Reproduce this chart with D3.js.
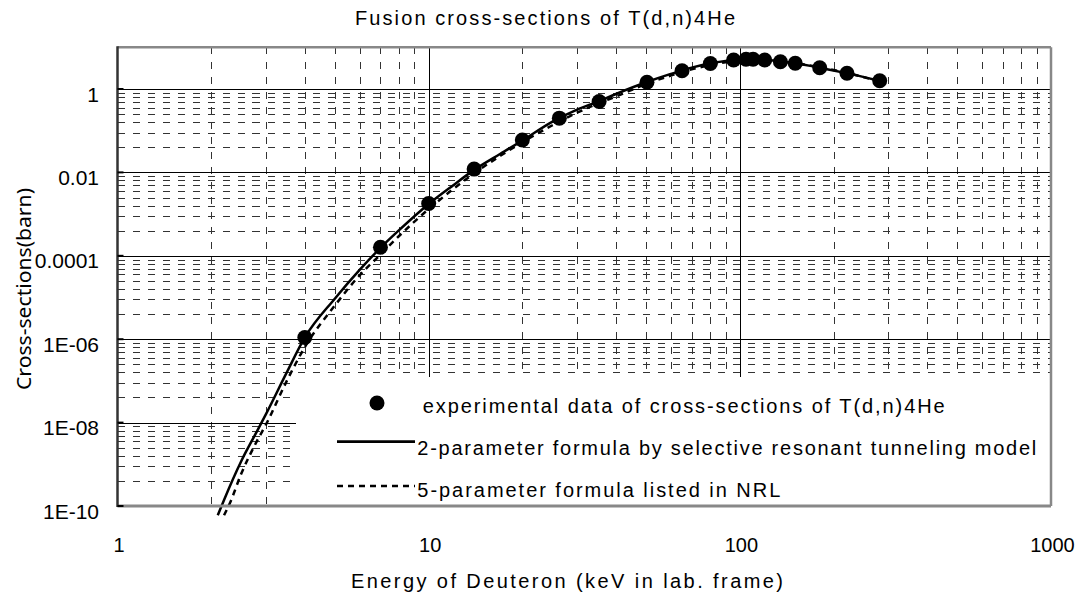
<!DOCTYPE html>
<html><head><meta charset="utf-8">
<script src="https://cdn.jsdelivr.net/npm/d3@7"></script>
<style>
body{margin:0;background:#fff}
svg{display:block}
text{font-family:"Liberation Sans",Arial,sans-serif;fill:#000}
</style>
</head><body><svg id="c" width="1080" height="593"></svg>
<script>
// ---- data ----
const titleText = "Fusion cross-sections of T(d,n)4He";
const xTitle = "Energy of Deuteron (keV in lab. frame)";
const yTitle = "Cross-sections(barn)";
const xTickValues = [1, 10, 100, 1000];
const xTickLabels = ["1", "10", "100", "1000"];
const yTickValues = [1e-10, 1e-8, 1e-6, 1e-4, 1e-2, 1];
const yTickLabels = ["1E-10", "1E-08", "1E-06", "0.0001", "0.01", "1"];
const minorMultipliers = [4, 9, 16, 25, 36, 49, 64, 81];
const legendLabels = [
  "experimental data of cross-sections of T(d,n)4He",
  "2-parameter formula by selective resonant tunneling model",
  "5-parameter formula listed in NRL"
];
// experimental points
const expEnergy = [4, 7, 10, 14, 20, 26.3, 35.3, 50.3, 65.2, 80.4, 95.5, 104.7, 110.3, 120.2, 135, 150.7, 180.6, 221, 281.5];
const expSigma  = [1.1e-6, 1.6e-4, 1.8e-3, 0.012, 0.06, 0.2, 0.5, 1.45, 2.75, 4.1, 4.97, 5.15, 5.15, 4.97, 4.52, 4.14, 3.24, 2.38, 1.58];
// 2-parameter curve (solid)
const srtEnergy = [2.1, 2.2, 2.5, 2.8, 3.0, 3.5, 4, 5, 6, 7, 8, 10, 12, 14, 17, 20, 25, 30, 35, 40, 50, 60, 70, 80, 90, 100, 110, 120, 135, 150, 180, 220, 280];
const srtSigma  = [6e-11, 1.4e-10, 1.2e-9, 6e-9, 1.6e-8, 1.6e-7, 1.1e-6, 9.5e-6, 4.6e-5, 1.55e-4, 4.0e-4, 1.75e-3, 4.95e-3, 0.0115, 0.028, 0.058, 0.165, 0.32, 0.5, 0.76, 1.45, 2.3, 3.25, 4.1, 4.7, 5.05, 5.15, 5.0, 4.55, 4.12, 3.25, 2.4, 1.58];
// 5-parameter NRL curve (dashed)
const nrlEnergy = [2.2, 2.3, 2.5, 2.8, 3.0, 3.5, 4, 5, 6, 7, 8, 10, 12, 14, 17, 20, 25, 30, 35, 40, 50, 60, 70, 80, 90, 100, 110, 120, 135, 150, 180, 220, 280];
const nrlSigma  = [6e-11, 1.2e-10, 6e-10, 3.5e-9, 9e-9, 1e-7, 6.5e-7, 6.5e-6, 3.4e-5, 1.07e-4, 2.9e-4, 1.32e-3, 4.0e-3, 9.5e-3, 0.025, 0.053, 0.135, 0.27, 0.45, 0.66, 1.32, 2.1, 2.95, 3.74, 4.4, 4.76, 4.93, 4.9, 4.6, 4.19, 3.35, 2.45, 1.53];

// ---- layout ----
const L = 117.5, R = 1051, T = 47.3, B = 506;
const svg = d3.select("#c");
const x = d3.scaleLog().domain([1, 1000]).range([L, R]);
const y = d3.scaleLog().domain([1e-10, 10]).range([B, T]);
const px = v => Math.round(v) + 0.5;

const grid = svg.append("g").attr("shape-rendering", "crispEdges");
// vertical minor dashed lines
const vMinor = [];
[1, 10, 100].forEach(d => d3.range(2, 10).forEach(k => vMinor.push(d * k)));
grid.selectAll("line.vmin").data(vMinor).join("line")
  .attr("x1", d => px(x(d))).attr("x2", d => px(x(d)))
  .attr("y1", T).attr("y2", B)
  .attr("stroke", "#333").attr("stroke-width", 1).attr("stroke-dasharray", "7,8");
// horizontal minor dashed lines
const hMinor = [];
yTickValues.slice(0, -1).forEach(b => minorMultipliers.forEach(m => hMinor.push(b * m)));
grid.selectAll("line.hmin").data(hMinor).join("line")
  .attr("x1", L).attr("x2", R)
  .attr("y1", d => px(y(d))).attr("y2", d => px(y(d)))
  .attr("stroke", "#333").attr("stroke-width", 1).attr("stroke-dasharray", "7,8");
// major gridlines
grid.selectAll("line.hmaj").data(yTickValues.slice(1)).join("line")
  .attr("x1", L).attr("x2", R)
  .attr("y1", d => px(y(d))).attr("y2", d => px(y(d)))
  .attr("stroke", "#000").attr("stroke-width", 1);
grid.selectAll("line.vmaj").data([10, 100]).join("line")
  .attr("x1", d => px(x(d))).attr("x2", d => px(x(d)))
  .attr("y1", T).attr("y2", B)
  .attr("stroke", "#000").attr("stroke-width", 1);

// legend background
svg.append("rect").attr("x", 296).attr("y", 377).attr("width", R - 296).attr("height", B - 377).attr("fill", "#fff");

// curves
const line = d3.line().x(d => x(d[0])).y(d => y(d[1])).curve(d3.curveMonotoneX);
svg.append("path").datum(d3.zip(nrlEnergy, nrlSigma)).attr("d", line)
  .attr("fill", "none").attr("stroke", "#000").attr("stroke-width", 2.5).attr("stroke-dasharray", "6,5");
svg.append("path").datum(d3.zip(srtEnergy, srtSigma)).attr("d", line)
  .attr("fill", "none").attr("stroke", "#000").attr("stroke-width", 2.5);
svg.append("g").selectAll("circle").data(d3.zip(expEnergy, expSigma)).join("circle")
  .attr("cx", d => x(d[0])).attr("cy", d => y(d[1])).attr("r", 7.5).attr("fill", "#000");

// frame
const frame = svg.append("g");
frame.append("line").attr("x1", L).attr("x2", R).attr("y1", T).attr("y2", T).attr("stroke", "#888").attr("stroke-width", 2.5);
frame.append("line").attr("x1", R).attr("x2", R).attr("y1", T).attr("y2", B).attr("stroke", "#888").attr("stroke-width", 2.5);
frame.append("line").attr("x1", L).attr("x2", R).attr("y1", B).attr("y2", B).attr("stroke", "#888").attr("stroke-width", 3);
frame.append("line").attr("x1", L).attr("x2", L).attr("y1", T - 1).attr("y2", B + 1).attr("stroke", "#333").attr("stroke-width", 2.5);
// major ticks on left axis
frame.selectAll("line.tk").data(yTickValues).join("line")
  .attr("x1", L).attr("x2", L + 6).attr("y1", d => y(d)).attr("y2", d => y(d))
  .attr("stroke", "#000").attr("stroke-width", 2);

// axis labels
svg.append("g").selectAll("text").data(d3.zip(yTickValues, yTickLabels)).join("text")
  .attr("x", 99).attr("y", d => y(d[0]) + 12.5).attr("text-anchor", "end")
  .attr("font-size", 21).text(d => d[1]);
svg.append("g").selectAll("text").data(d3.zip(xTickValues, xTickLabels)).join("text")
  .attr("x", d => x(d[0]) + 1.5).attr("y", 552).attr("text-anchor", "middle")
  .attr("font-size", 20).text(d => d[1]);

// titles
svg.append("text").attr("x", 355).attr("y", 25).attr("font-size", 20)
  .attr("textLength", 380).attr("lengthAdjust", "spacing").text(titleText);
svg.append("text").attr("x", 351).attr("y", 588).attr("font-size", 20)
  .attr("textLength", 432).attr("lengthAdjust", "spacing").text(xTitle);
svg.append("text").attr("transform", "translate(31,390) rotate(-90)")
  .style("font-family", "'Noto Sans','Open Sans',sans-serif").attr("font-size", 20)
  .attr("textLength", 202).attr("lengthAdjust", "spacingAndGlyphs").text(yTitle);

// legend
const lg = svg.append("g");
lg.append("circle").attr("cx", 377).attr("cy", 403).attr("r", 7.5).attr("fill", "#000");
lg.append("line").attr("x1", 337).attr("x2", 415).attr("y1", 441.7).attr("y2", 441.7).attr("stroke", "#000").attr("stroke-width", 2.7);
lg.append("line").attr("x1", 337).attr("x2", 415).attr("y1", 486).attr("y2", 486).attr("stroke", "#000").attr("stroke-width", 2.7).attr("stroke-dasharray", "6,5");
const legPos = [[422.7, 413, 522], [417.3, 455, 619], [417.3, 497, 363]];
lg.selectAll("text").data(d3.zip(legendLabels, legPos)).join("text")
  .attr("x", d => d[1][0]).attr("y", d => d[1][1]).attr("font-size", 20)
  .attr("textLength", d => d[1][2]).attr("lengthAdjust", "spacing").text(d => d[0]);
</script></body></html>
